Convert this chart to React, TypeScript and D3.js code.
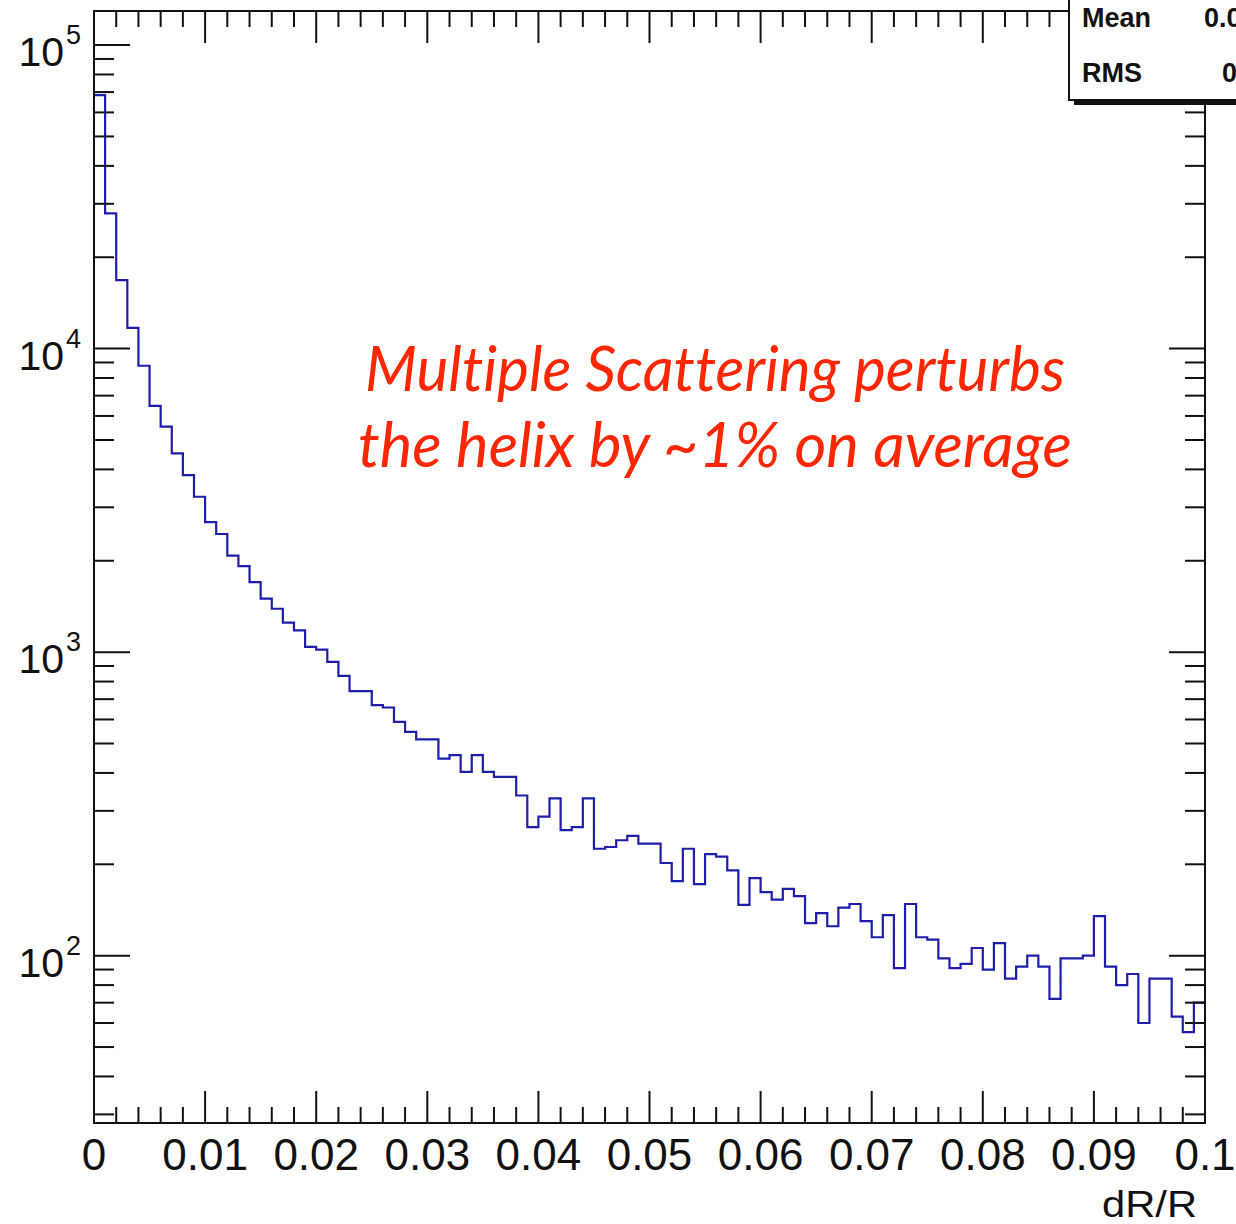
import React, { useEffect, useRef } from "react";
import * as d3 from "d3";

// histogram of dR/R, 100 bins from 0 to 0.1
const binRange = [0, 0.1];
const counts = [
  68400, 27900, 16800, 11700, 8780, 6480, 5530, 4520, 3830, 3250,
  2680, 2450, 2080, 1920, 1700, 1500, 1390, 1250, 1180, 1040,
  1020, 929, 835, 744, 744, 669, 657, 589, 546, 516,
  516, 446, 458, 403, 458, 403, 388, 388, 337, 265,
  287, 330, 259, 265, 330, 225, 228, 240, 248, 234,
  234, 202, 176, 225, 172, 216, 212, 191, 147, 180,
  162, 153, 166, 157, 128, 138, 125, 144, 148, 130,
  115, 136, 91, 148, 115, 113, 98, 91, 94, 106,
  90, 110, 84, 92, 100, 92, 72, 98, 98, 100,
  135, 92, 80, 87, 60, 84, 84, 63, 56, 70,
];
const yRange = [28.1, 129500];
const statLabels = ["Mean", "RMS"];
const statValues = ["0.0", "0"];
const noteLines = ["Multiple Scattering perturbs", "the helix by ~1% on average"];
const xTitle = "dR/R";

const W = 1236;
const H = 1224;
const frame = { left: 94, right: 1205, top: 11, bottom: 1123 };

function App() {
  const ref = useRef<SVGSVGElement | null>(null);

  useEffect(() => {
    const svg = d3.select(ref.current);
    svg.selectAll("*").remove();

    const x = d3.scaleLinear().domain(binRange).range([frame.left, frame.right]);
    const y = d3.scaleLog().domain(yRange).range([frame.bottom, frame.top]);

    const nb = counts.length;
    const bw = (binRange[1] - binRange[0]) / nb;
    const pts: [number, number][] = counts.map((c, i) => [binRange[0] + i * bw, c]);
    pts.push([binRange[1], counts[nb - 1]]);

    const line = d3
      .line<[number, number]>()
      .x((d) => x(d[0]))
      .y((d) => y(d[1]))
      .curve(d3.curveStepAfter);

    svg
      .append("path")
      .attr("d", line(pts))
      .attr("fill", "none")
      .attr("stroke", "#1e1eaa")
      .attr("stroke-width", 2.2);

    const ax = svg.append("g").attr("stroke", "#111").attr("stroke-width", 2);

    // x ticks, top and bottom
    x.ticks(50).forEach((t) => {
      const major = Math.abs(Math.round(t * 100) - t * 100) < 1e-6;
      const len = major ? 32 : 16;
      const px = x(t);
      ax.append("line").attr("x1", px).attr("x2", px).attr("y1", frame.bottom).attr("y2", frame.bottom - len);
      ax.append("line").attr("x1", px).attr("x2", px).attr("y1", frame.top).attr("y2", frame.top + len);
    });

    // y ticks, left and right
    y.ticks().forEach((t) => {
      const lg = Math.log10(t);
      const major = Math.abs(lg - Math.round(lg)) < 1e-6;
      const len = major ? 36 : 20;
      const py = y(t);
      ax.append("line").attr("x1", frame.left).attr("x2", frame.left + len).attr("y1", py).attr("y2", py);
      ax.append("line").attr("x1", frame.right).attr("x2", frame.right - len).attr("y1", py).attr("y2", py);
    });

    ax.append("rect")
      .attr("x", frame.left)
      .attr("y", frame.top)
      .attr("width", frame.right - frame.left)
      .attr("height", frame.bottom - frame.top)
      .attr("fill", "none");

    const font = "Liberation Sans, Arial, Helvetica, sans-serif";

    // x labels
    svg
      .append("g")
      .selectAll("text")
      .data(x.ticks(10))
      .enter()
      .append("text")
      .attr("x", (d) => x(d))
      .attr("y", 1170)
      .attr("text-anchor", "middle")
      .attr("font-family", font)
      .attr("font-size", 44)
      .attr("fill", "#111")
      .text((d) => String(+d.toFixed(2)));

    // y labels 10^n
    const decades = y.ticks().filter((t) => Math.abs(Math.log10(t) - Math.round(Math.log10(t))) < 1e-6);
    const yl = svg.append("g").attr("font-family", font).attr("fill", "#111");
    decades.forEach((t) => {
      const py = y(t);
      yl.append("text").attr("x", 64).attr("y", py + 21).attr("text-anchor", "end").attr("font-size", 41).text("10");
      yl.append("text").attr("x", 66).attr("y", py - 1).attr("font-size", 27).text(String(Math.round(Math.log10(t))));
    });

    svg
      .append("text")
      .attr("x", 1197)
      .attr("y", 1217)
      .attr("text-anchor", "end")
      .attr("font-family", font)
      .attr("font-size", 36)
      .attr("textLength", 95)
      .attr("lengthAdjust", "spacingAndGlyphs")
      .attr("fill", "#111")
      .text(xTitle);

    // annotation
    const note = svg
      .append("g")
      .attr("font-family", "Lato, 'Open Sans', sans-serif")
      .attr("font-style", "italic")
      .attr("font-size", 62)
      .attr("fill", "#ff2600")
      .style("font-variant-ligatures", "none");
    note.append("text").attr("x", 365).attr("y", 391).attr("textLength", 700).attr("lengthAdjust", "spacingAndGlyphs").text(noteLines[0]);
    note.append("text").attr("x", 358).attr("y", 467).attr("textLength", 714).attr("lengthAdjust", "spacingAndGlyphs").text(noteLines[1]);

    // stats box (runs off the top-right corner, as in the original)
    const sb = svg.append("g");
    sb.append("rect").attr("x", 1074).attr("y", -20).attr("width", 200).attr("height", 125).attr("fill", "#111");
    sb.append("rect")
      .attr("x", 1069)
      .attr("y", -20)
      .attr("width", 200)
      .attr("height", 120)
      .attr("fill", "#fff")
      .attr("stroke", "#111")
      .attr("stroke-width", 2);
    statLabels.forEach((s, i) => {
      sb.append("text")
        .attr("x", 1082)
        .attr("y", 27 + i * 55)
        .attr("font-family", font)
        .attr("font-weight", "bold")
        .attr("font-size", 27)
        .attr("fill", "#111")
        .text(s);
    });
    statValues.forEach((s, i) => {
      sb.append("text")
        .attr("x", i === 0 ? 1204 : 1222)
        .attr("y", 27 + i * 55)
        .attr("font-family", font)
        .attr("font-weight", "bold")
        .attr("font-size", 27)
        .attr("fill", "#111")
        .text(s);
    });
  }, []);

  return (
    <svg
      ref={ref}
      width={W}
      height={H}
      style={{ position: "absolute", left: 0, top: 0, background: "#fff" }}
    />
  );
}

export default App;
